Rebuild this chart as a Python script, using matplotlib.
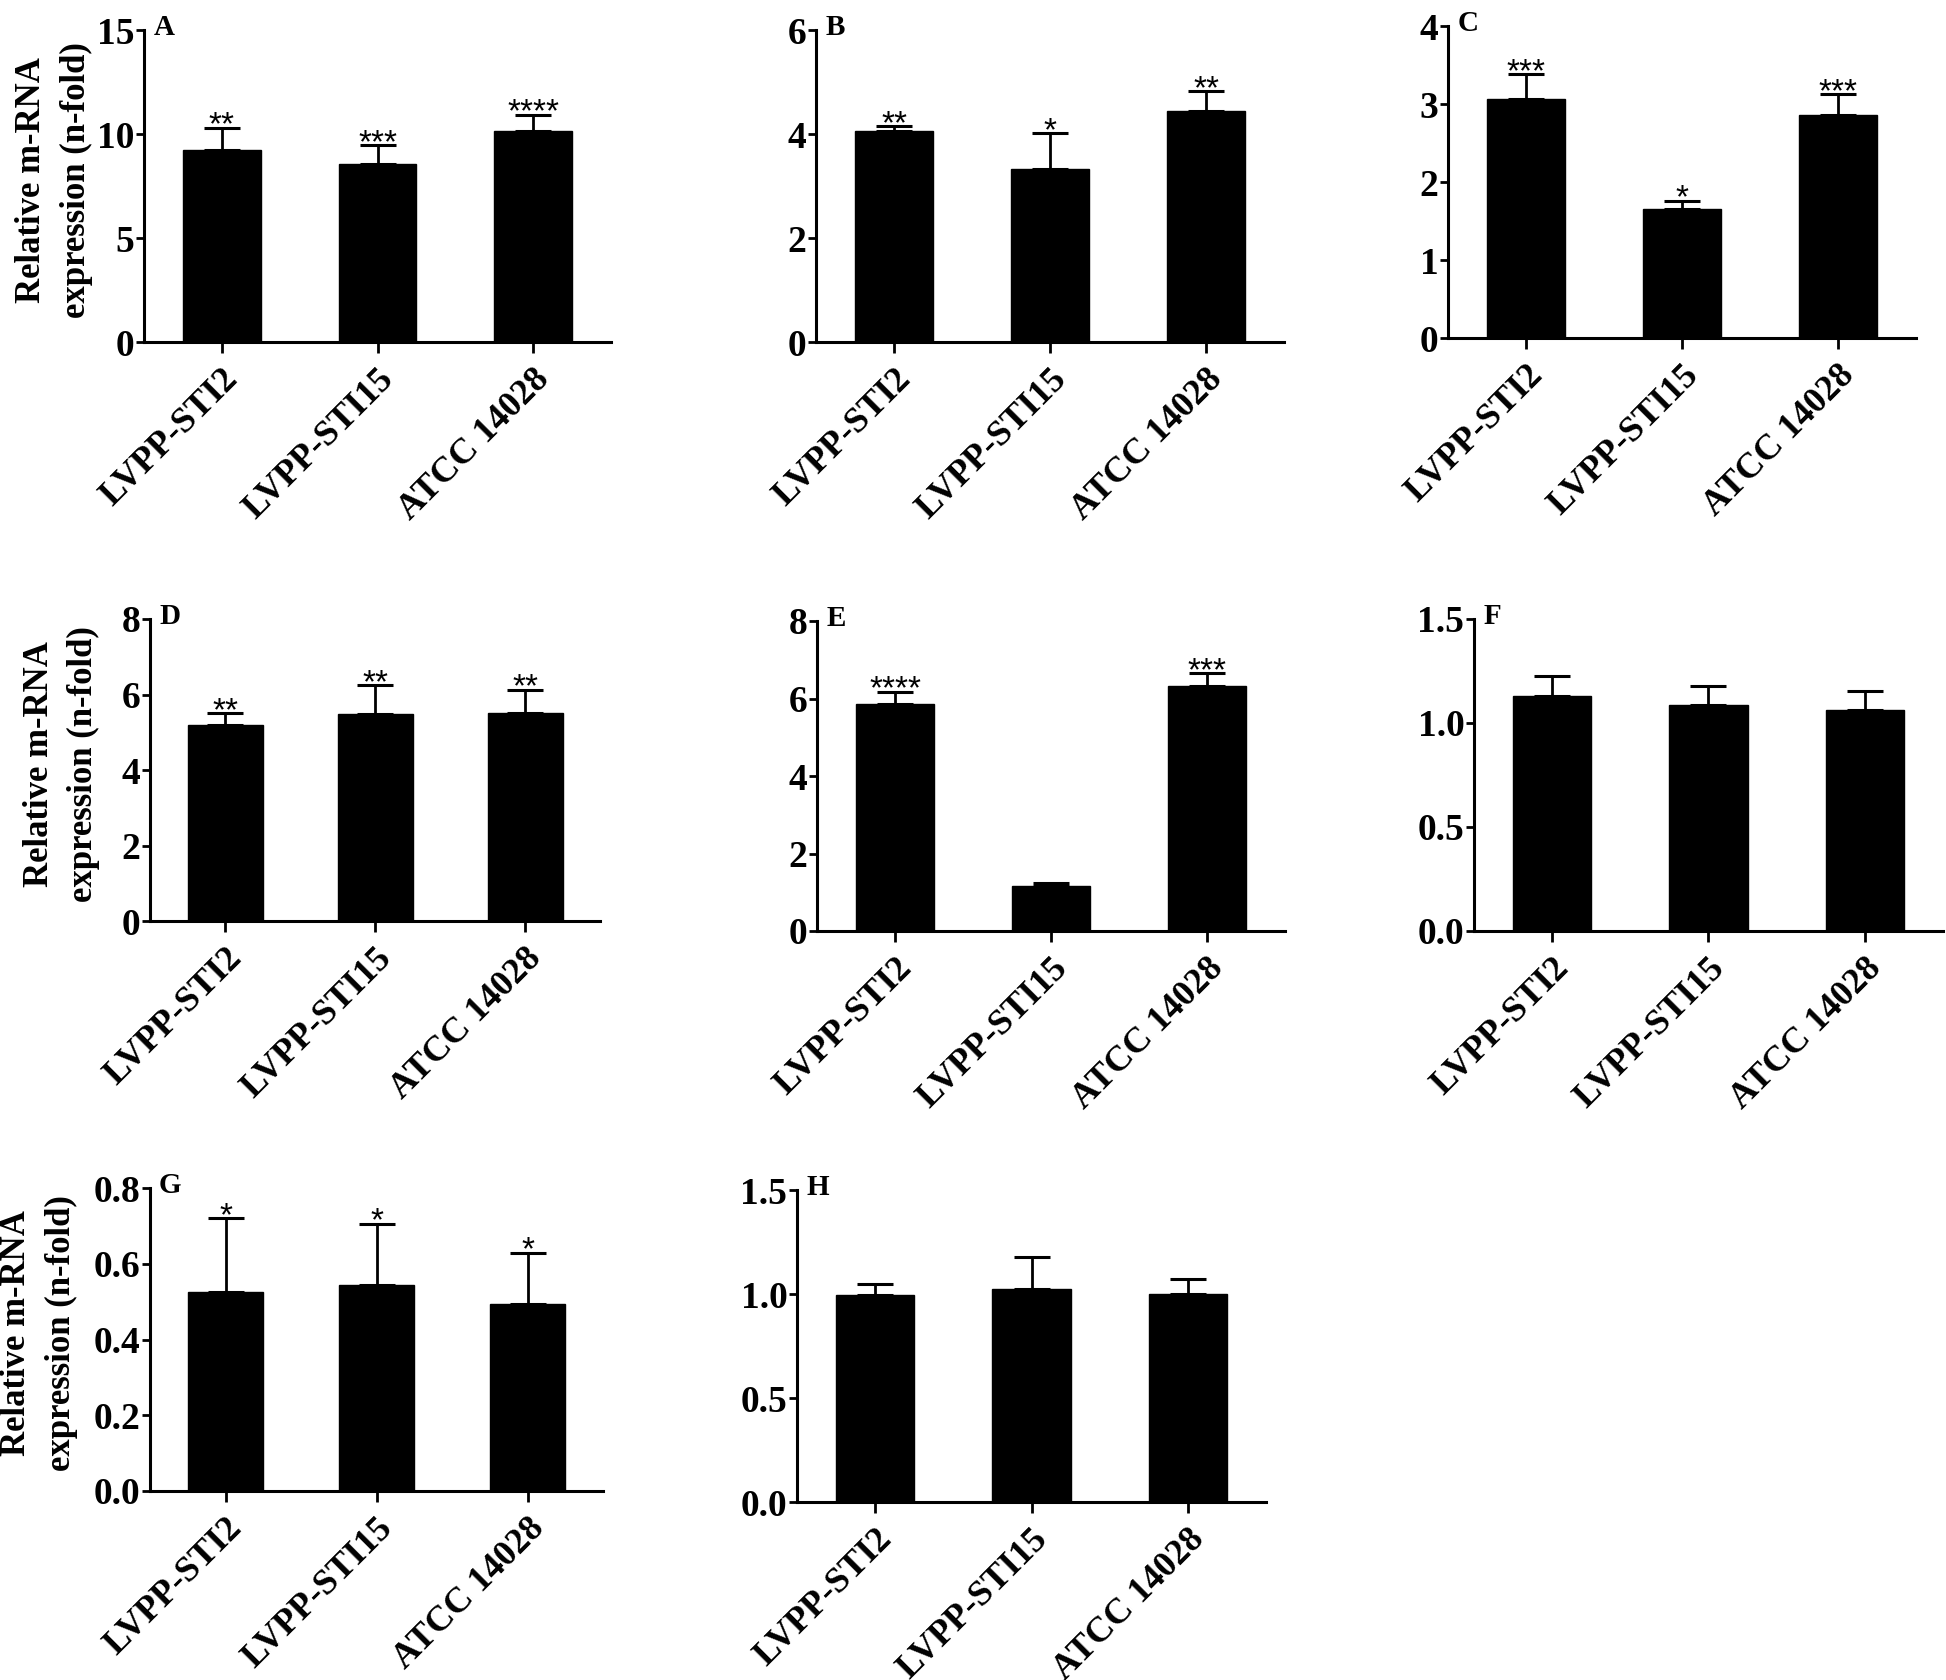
import numpy as np
import matplotlib
matplotlib.use("Agg")
import matplotlib.pyplot as plt

SERIF = "Liberation Serif"
SANS = "Liberation Sans"

strains = ["LVPP-STI2", "LVPP-STI15", "ATCC 14028"]
panels = ["A", "B", "C", "D", "E", "F", "G", "H"]

# bar heights and top of error bars
means_a = [9.22, 8.55, 10.14]
tops_a = [10.30, 9.45, 10.93]
means_b = [4.05, 3.33, 4.44]
tops_b = [4.15, 4.01, 4.82]
means_c = [3.07, 1.66, 2.86]
tops_c = [3.38, 1.76, 3.13]
means_d = [5.18, 5.48, 5.51]
tops_d = [5.51, 6.24, 6.13]
means_e = [5.87, 1.17, 6.33]
tops_e = [6.18, 1.23, 6.65]
means_f = [1.131, 1.085, 1.064]
tops_f = [1.224, 1.178, 1.152]
means_g = [0.526, 0.544, 0.495]
tops_g = [0.720, 0.706, 0.629]
means_h = [0.996, 1.024, 1.000]
tops_h = [1.047, 1.177, 1.070]

stars_a = ["**", "***", "****"]
stars_b = ["**", "*", "**"]
stars_c = ["***", "*", "***"]
stars_d = ["**", "**", "**"]
stars_e = ["****", "", "***"]
stars_f = ["", "", ""]
stars_g = ["*", "*", "*"]
stars_h = ["", "", ""]

yticks_a = [0, 5, 10, 15]
yticks_b = [0, 2, 4, 6]
yticks_c = [0, 1, 2, 3, 4]
yticks_d = [0, 2, 4, 6, 8]
yticks_e = [0, 2, 4, 6, 8]
yticks_f = [0.0, 0.5, 1.0, 1.5]
yticks_g = [0.0, 0.2, 0.4, 0.6, 0.8]
yticks_h = [0.0, 0.5, 1.0, 1.5]

ylabel = "Relative m-RNA\nexpression (n-fold)"

W, H = 1946, 1680
# axes boxes in pixels: left, top, right, bottom
boxes = {
    "A": (144, 30, 611, 342),
    "B": (816, 30, 1284, 342),
    "C": (1448, 26, 1916, 338),
    "D": (150, 619, 600, 921),
    "E": (817, 621, 1285, 931),
    "F": (1474, 619, 1943, 931),
    "G": (150, 1188, 603, 1491),
    "H": (797, 1190, 1266, 1502),
}
# y label anchor (axes coords) for the left column
label_x = {"A": -0.11, "D": -0.11, "G": -0.16}

data = {
    "A": (means_a, tops_a, stars_a, yticks_a, "{:.0f}"),
    "B": (means_b, tops_b, stars_b, yticks_b, "{:.0f}"),
    "C": (means_c, tops_c, stars_c, yticks_c, "{:.0f}"),
    "D": (means_d, tops_d, stars_d, yticks_d, "{:.0f}"),
    "E": (means_e, tops_e, stars_e, yticks_e, "{:.0f}"),
    "F": (means_f, tops_f, stars_f, yticks_f, "{:.1f}"),
    "G": (means_g, tops_g, stars_g, yticks_g, "{:.1f}"),
    "H": (means_h, tops_h, stars_h, yticks_h, "{:.1f}"),
}

fig = plt.figure(figsize=(W / 100, H / 100), dpi=100)

for name in panels:
    l, t, r, b = boxes[name]
    ax = fig.add_axes([l / W, 1 - b / H, (r - l) / W, (b - t) / H])
    means, tops, stars, yticks, fmt = data[name]
    x = np.arange(len(strains))
    means = np.array(means)
    errs = np.array(tops) - means

    ax.bar(x, means, width=0.5, color="black", edgecolor="black", zorder=2)
    ax.errorbar(x, means, yerr=[np.zeros_like(errs), errs], fmt="none",
                ecolor="black", elinewidth=2, capsize=13, capthick=2.2, zorder=3)
    for xi, top, s in zip(x, tops, stars):
        if s:
            ax.annotate(s, (xi, top), xytext=(0, -5), textcoords="offset points",
                        ha="center", va="baseline", fontsize=24, family=SANS)

    ax.set_xlim(-0.5, 2.5)
    ax.set_ylim(0, yticks[-1])
    ax.set_yticks(yticks)
    ax.set_yticklabels([fmt.format(v) for v in yticks], family=SERIF,
                       fontweight="bold", fontsize=27)
    ax.set_xticks(x)
    ax.set_xticklabels(strains, rotation=45, ha="right", rotation_mode="anchor",
                       family=SERIF, fontweight="bold", fontsize=26)
    ax.tick_params(axis="y", length=6, width=2, pad=1)
    ax.tick_params(axis="x", length=8, width=2, pad=7)
    for side in ["top", "right"]:
        ax.spines[side].set_visible(False)
    for side in ["left", "bottom"]:
        ax.spines[side].set_linewidth(2.2)
    ax.spines["left"].set_zorder(4)

    ax.text(0.02, 0.985, name, transform=ax.transAxes, ha="left", va="baseline",
            family=SERIF, fontweight="bold", fontsize=21)

    if name in label_x:
        ax.set_ylabel(ylabel, family=SERIF, fontweight="bold", fontsize=25,
                      linespacing=1.45)
        ax.yaxis.set_label_coords(label_x[name], 0.52)

fig.savefig("out.png", dpi=100)
